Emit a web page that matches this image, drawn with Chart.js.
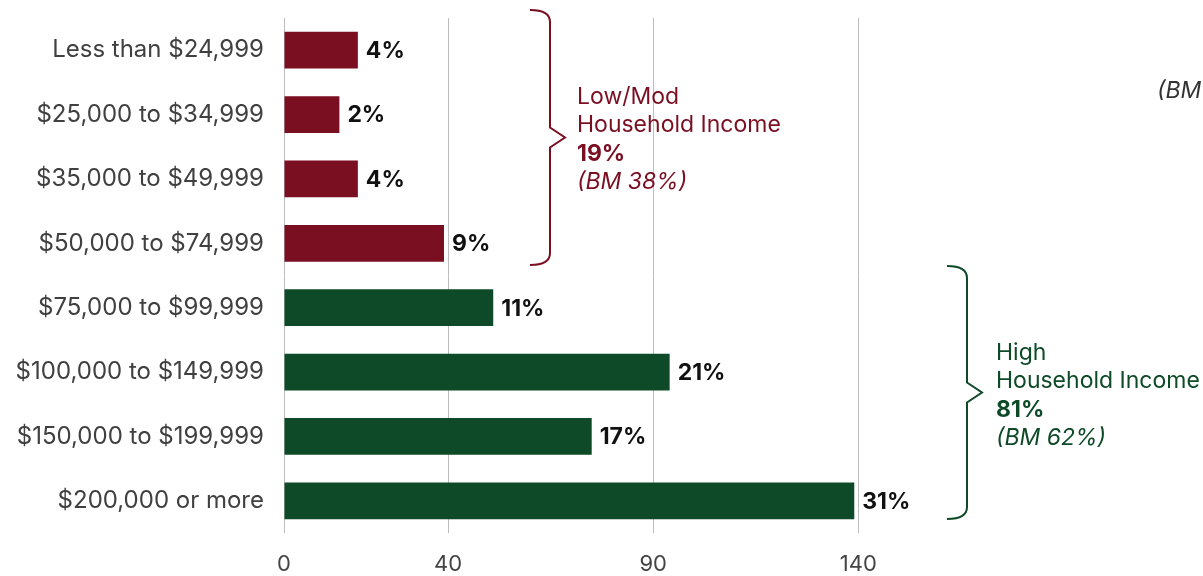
<!DOCTYPE html>
<html>
<head>
<meta charset="utf-8">
<script src="https://cdn.jsdelivr.net/npm/chart.js@4.4.1/dist/chart.umd.min.js"></script>
<style>
  html, body { margin: 0; padding: 0; background: #fff; }
  #wrap { width: 1203px; height: 576px; position: relative; }
</style>
</head>
<body>
<div id="wrap"><canvas id="chartIncome"></canvas></div>
<script>
(function () {
    'use strict';

    /* ── Data ─────────────────────────────────────────────── */
    const incomeBands = [
        'Less than $24,999',
        '$25,000 to $34,999',
        '$35,000 to $49,999',
        '$50,000 to $74,999',
        '$75,000 to $99,999',
        '$100,000 to $149,999',
        '$150,000 to $199,999',
        '$200,000 or more'
    ];
    const households = [18, 13.5, 18, 39, 51, 94, 75, 139];
    const shareLabels = ['4%', '2%', '4%', '9%', '11%', '21%', '17%', '31%'];
    const xTicks = [0, 40, 90, 140];

    /* ── Palette ──────────────────────────────────────────── */
    const RED = '#7a0f22';
    const GREEN = '#0e4a27';
    const TEXT = '#404040';
    const GRID = '#bdbdbd';
    const FONT = "Inter, 'Open Sans', 'Liberation Sans', sans-serif";

    const barColors = households.map((_, i) => (i < 4 ? RED : GREEN));

    /* ── Value labels at bar ends ─────────────────────────── */
    const valueLabels = {
        id: 'valueLabels',
        afterDatasetsDraw(chart) {
            const ctx = chart.ctx;
            const meta = chart.getDatasetMeta(0);
            ctx.save();
            ctx.font = `700 23px ${FONT}`;
            ctx.fillStyle = '#111';
            ctx.textAlign = 'left';
            ctx.textBaseline = 'middle';
            meta.data.forEach((bar, i) => {
                ctx.fillText(shareLabels[i], bar.x + 8, bar.y + 1);
            });
            ctx.restore();
        }
    };

    /* ── Group braces and captions ────────────────────────── */
    function brace(ctx, x0, x1, tip, top, bottom, color) {
        const mid = (top + bottom) / 2;
        ctx.beginPath();
        ctx.moveTo(x0, top);
        ctx.quadraticCurveTo(x1, top, x1, top + 12);
        ctx.lineTo(x1, mid - 10);
        ctx.lineTo(tip, mid);
        ctx.lineTo(x1, mid + 10);
        ctx.lineTo(x1, bottom - 12);
        ctx.quadraticCurveTo(x1, bottom, x0, bottom);
        ctx.strokeStyle = color;
        ctx.lineWidth = 2;
        ctx.stroke();
    }

    function caption(ctx, x, y, lines, color) {
        ctx.fillStyle = color;
        ctx.textAlign = 'left';
        ctx.textBaseline = 'middle';
        lines.forEach((ln, i) => {
            ctx.font = `${ln.style} 23px ${FONT}`;
            ctx.fillText(ln.text, x, y + i * 28.3);
        });
    }

    const groupNotes = {
        id: 'groupNotes',
        afterDraw(chart) {
            const ctx = chart.ctx;
            ctx.save();
            brace(ctx, 530, 550, 565, 10, 265, RED);
            caption(ctx, 577, 97, [
                { text: 'Low/Mod', style: '400' },
                { text: 'Household Income', style: '400' },
                { text: '19%', style: '700' },
                { text: '(BM 38%)', style: 'italic 400' }
            ], RED);

            brace(ctx, 947, 967, 982, 266, 519, GREEN);
            caption(ctx, 996, 353, [
                { text: 'High', style: '400' },
                { text: 'Household Income', style: '400' },
                { text: '81%', style: '700' },
                { text: '(BM 62%)', style: 'italic 400' }
            ], GREEN);

            ctx.font = `italic 400 23px ${FONT}`;
            ctx.fillStyle = '#333';
            ctx.textBaseline = 'middle';
            ctx.fillText('(BM', 1157, 91);
            ctx.restore();
        }
    };

    /* ── Chart ────────────────────────────────────────────── */
    const ctx = document.getElementById('chartIncome').getContext('2d');
    new Chart(ctx, {
        type: 'bar',
        data: {
            labels: incomeBands,
            datasets: [{
                data: households,
                backgroundColor: barColors,
                borderWidth: 0,
                barPercentage: 0.57,
                categoryPercentage: 1
            }]
        },
        options: {
            indexAxis: 'y',
            responsive: true,
            maintainAspectRatio: false,
            animation: false,
            layout: { padding: { top: 18, right: 0, bottom: 1, left: 0 } },
            plugins: {
                legend: { display: false },
                tooltip: { enabled: false }
            },
            scales: {
                x: {
                    min: 0,
                    max: 224,
                    afterBuildTicks(scale) {
                        scale.ticks = xTicks.map(v => ({ value: v }));
                    },
                    afterFit(scale) { scale.height = 42; },
                    grid: { color: GRID, drawTicks: false, lineWidth: 1 },
                    border: { display: false },
                    ticks: {
                        color: '#444',
                        padding: 18,
                        maxRotation: 0,
                        font: { family: FONT, size: 22 }
                    }
                },
                y: {
                    afterFit(scale) {
                        scale.width = 284;
                        scale.paddingTop = 0;
                        scale.paddingBottom = 0;
                    },
                    grid: { display: false, drawTicks: false },
                    border: { display: false },
                    ticks: {
                        color: TEXT,
                        padding: 20,
                        font: { family: FONT, size: 24 }
                    }
                }
            }
        },
        plugins: [valueLabels, groupNotes]
    });
})();
</script>
</body>
</html>
